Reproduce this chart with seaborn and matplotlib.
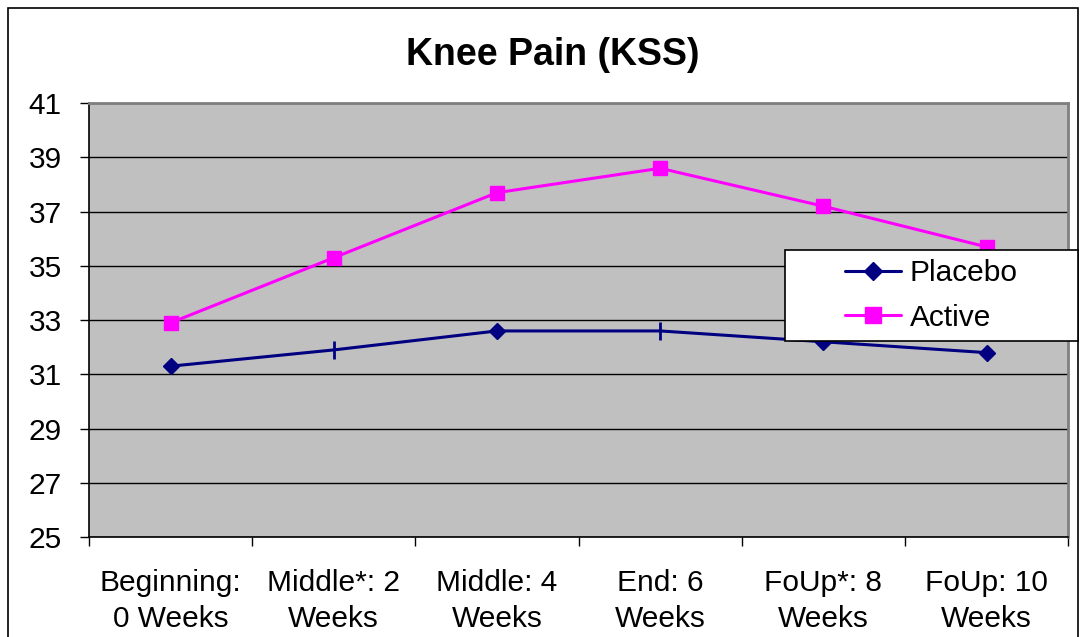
#!/usr/bin/env python3

import pandas as pd
import seaborn as sns
from matplotlib import pyplot as plt
from matplotlib.lines import Line2D
from matplotlib.patches import Rectangle

categories = ['Beginning:\n0 Weeks', 'Middle*: 2\nWeeks', 'Middle: 4\nWeeks',
              'End: 6\nWeeks', 'FoUp*: 8\nWeeks', 'FoUp: 10\nWeeks']
placebo = [31.3, 31.9, 32.6, 32.6, 32.2, 31.8]
active = [32.9, 35.3, 37.7, 38.6, 37.2, 35.7]
y_ticks = [25, 27, 29, 31, 33, 35, 37, 39, 41]


def plot(out_file):
    df = pd.DataFrame({
        'x': list(range(len(categories))) * 2,
        'value': placebo + active,
        'series': ['Placebo'] * len(placebo) + ['Active'] * len(active),
    })

    sns.set_theme(style='white')
    plt.rcParams['font.family'] = ['Liberation Sans', 'DejaVu Sans']
    plt.rcParams['text.color'] = 'black'
    plt.rcParams['xtick.color'] = 'black'
    plt.rcParams['ytick.color'] = 'black'

    colors = {'Placebo': '#000080', 'Active': '#FF00FF'}
    fs = 21.5

    f = plt.figure(figsize=(10.8, 6.37), dpi=100)
    ax = f.add_axes([0.0824, 0.157, 0.9066, 0.681])
    ax.set_facecolor('#C0C0C0')

    # outer chart border
    f.patches.append(Rectangle((8 / 1080, -0.05), 1070 / 1080, 1.05 - 8 / 637,
                               transform=f.transFigure, fill=False,
                               edgecolor='black', linewidth=1.2))

    sns.lineplot(data=df, x='x', y='value', hue='series', palette=colors,
                 linewidth=2.2, legend=False, ax=ax, zorder=3)

    # markers (Excel drew two of the placebo points as bars)
    xs = list(range(len(categories)))
    ax.plot(xs, placebo, linestyle='none', marker='D', markersize=8.5,
            color=colors['Placebo'], markevery=[0, 2, 4, 5], zorder=4)
    ax.plot(xs, placebo, linestyle='none', marker='|', markersize=13,
            markeredgewidth=2, color=colors['Placebo'], markevery=[1, 3],
            zorder=4)
    ax.plot(xs, active, linestyle='none', marker='s', markersize=10.5,
            color=colors['Active'], zorder=4)

    ax.set_xlim(-0.5, len(categories) - 0.5)
    ax.set_ylim(y_ticks[0], y_ticks[-1])
    ax.set_yticks(y_ticks)
    ax.set_xticks(xs)
    ax.set_xticklabels(categories, fontsize=fs, linespacing=1.38)
    ax.set_xticks([i - 0.5 for i in range(len(categories) + 1)], minor=True)
    ax.tick_params(axis='x', which='major', length=0, pad=23)
    ax.tick_params(axis='x', which='minor', length=6.5, width=1,
                   direction='out', bottom=True)
    ax.tick_params(axis='y', length=6.5, width=1, direction='out', left=True,
                   labelsize=fs, pad=13)
    ax.grid(axis='y', color='black', linewidth=1)
    ax.set_axisbelow(True)

    for s in ['left', 'bottom']:
        ax.spines[s].set_color('black')
        ax.spines[s].set_linewidth(1.2)
    for s in ['top', 'right']:
        ax.spines[s].set_color('#808080')
        ax.spines[s].set_linewidth(2)

    ax.set_xlabel(None)
    ax.set_ylabel(None)

    f.text(553 / 1080, 1 - 55 / 637, 'Knee Pain (KSS)', ha='center',
           va='center', fontsize=27, fontweight='bold')

    # legend box drawn separately so it can be wider than its content
    box = (785 / 1080, 1 - 341 / 637, 293 / 1080, 91 / 637)
    f.patches.append(Rectangle(box[:2], box[2], box[3],
                               transform=f.transFigure, facecolor='white',
                               edgecolor='black', linewidth=1.2, zorder=9))
    handles = [
        Line2D([], [], color=colors['Placebo'], linewidth=2.2, marker='D',
               markersize=9.5),
        Line2D([], [], color=colors['Active'], linewidth=2.2, marker='s',
               markersize=11.5),
    ]
    leg = f.legend(handles, ['Placebo', 'Active'], loc='center',
                   bbox_to_anchor=box, fontsize=fs, frameon=False,
                   handlelength=1.85, handletextpad=0.3, labelspacing=0.56,
                   borderaxespad=0, borderpad=0)
    leg.set_zorder(10)

    f.savefig(out_file, dpi=100)


if __name__ == '__main__':
    plot('out.png')
